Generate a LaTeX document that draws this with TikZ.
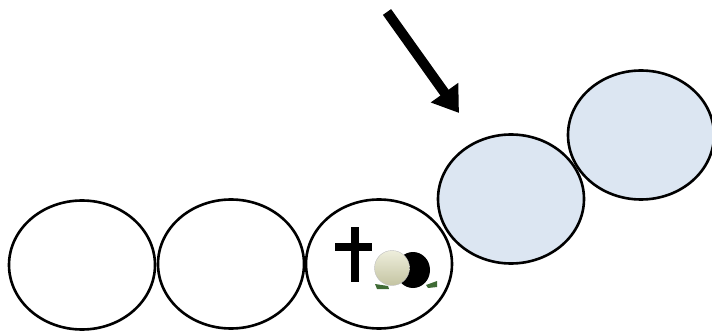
\documentclass[tikz,border=0pt]{standalone}
\usetikzlibrary{shapes.geometric,arrows.meta}
\definecolor{paleblue}{HTML}{DCE6F2}
\definecolor{stonetop}{HTML}{EEEEDC}
\definecolor{stonelow}{HTML}{C4C4A2}
\definecolor{grass}{HTML}{3F6B35}
\tikzset{
  oval/.style={draw=black,line width=2.6pt,ellipse,inner sep=0pt,minimum width=146pt,minimum height=129pt},
  future/.style={oval,fill=paleblue},
  pointer/.style={line width=10pt,-{Triangle[length=25pt,width=32pt]}}
}
\begin{document}
\begin{tikzpicture}[x=1pt,y=-1pt]
      \useasboundingbox (0,0) rectangle (712,331);
      \draw
        (82,265) node[oval] (0){}
        (231,264) node[oval] (1){}
        (379,264) node[oval] (2){}
        (511,199) node[future] (3){}
        (641,135) node[future] (4){};
      % arrow
      \coordinate (start) at (387,12);
      \coordinate (tip) at (459,113);
      \draw[pointer] (start) to (tip);
      % cross and tomb
      \begin{scope}[shift={(2.center)}]
        \fill[black] (-28,-37) rectangle (-20,18);
        \fill[black] (-44,-21) rectangle (-7,-13);
        \fill[grass] (-4,20) -- (9,22) -- (10,25) -- (-2,25) -- cycle;
        \fill[grass] (47,21) -- (58,17) -- (58,23) -- (49,24) -- cycle;
        \fill[black] (34,6) ellipse (17 and 18);
        \draw[gray!50,top color=stonetop,bottom color=stonelow] (13,4) ellipse (17.5 and 17.5);
      \end{scope}
    \end{tikzpicture}
\end{document}
